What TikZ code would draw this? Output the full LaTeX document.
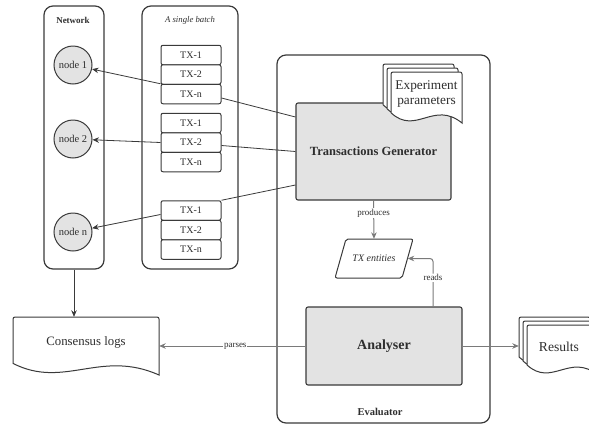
\documentclass[tikz,border=0pt]{standalone}
\usepackage{fontspec}
\setmainfont{Liberation Serif}
\usetikzlibrary{arrows.meta,calc}
\definecolor{ln}{HTML}{3A3A3A}
\definecolor{gfill}{HTML}{E3E3E3}
\definecolor{garr}{HTML}{7A7A7A}
\definecolor{txt}{HTML}{2E2E2E}
\newcommand\fs[2][]{\fontsize{#2}{#2}\selectfont}
\newcommand\docshape[4]{%
  \path[docsty] ({#1},{#2+0.8*#4}) [rounded corners=2pt] -- ({#1},{#2}) -- ({#1+#3},{#2}) [sharp corners] -- ({#1+#3},{#2+#4})
    .. controls ({#1+0.6*#3},{#2+0.55*#4}) and ({#1+0.35*#3},{#2+1.25*#4}) .. ({#1},{#2+0.8*#4}) -- cycle;}
\begin{document}
\begin{tikzpicture}[x=1pt,y=-1pt,
  container/.style={draw=ln, line width=1.2pt, rounded corners=9pt, inner sep=0pt},
  txbox/.style={draw=ln, line width=1pt, rounded corners=2pt, fill=white, minimum width=60pt, minimum height=19.5pt, inner sep=0pt, font=\fs{10}, text=txt},
  netnode/.style={circle, draw=ln, line width=1pt, fill=gfill, minimum size=38pt, inner sep=0pt, font=\fs{10.5}, text=txt},
  procbox/.style={draw=ln, line width=1.1pt, rounded corners=2pt, fill=gfill, inner sep=0pt, text=txt},
  docsty/.style={draw=ln, line width=1pt, fill=white},
  dk/.style={draw=ln, line width=0.8pt},
  darr/.style={dk, -{Stealth[length=6.5pt,width=5.5pt]}},
  garrow/.style={draw=garr, line width=1pt, -{Stealth[length=6.5pt,width=5.5pt]}},
  lbl/.style={font=\fs{9}, text=txt, fill=white, inner sep=1pt},
  ttl/.style={text=txt, inner sep=0pt},
]
\useasboundingbox (0,0) rectangle (589,426);
\clip (0,0) rectangle (589,426);

% containers
\node[container, minimum width=60pt, minimum height=263pt] (net) at (74,137.5) {};
\node[ttl, font=\fs{9}\bfseries] (netlbl) at (73,20) {Network};
\node[container, minimum width=96pt, minimum height=263pt] (batch) at (190,137.5) {};
\node[ttl, font=\fs{8.7}\itshape] (batchlbl) at (190,20) {A single batch};
\node[container, minimum width=213pt, minimum height=368pt] (eval) at (383.5,239) {};
\node[ttl, font=\fs{10.5}\bfseries] (evallbl) at (380,412) {Evaluator};

% network nodes
\node[netnode] (n1) at (73,65) {node 1};
\node[netnode] (n2) at (73,139) {node 2};
\node[netnode] (nn) at (73,232) {node n};

% batches
\node[txbox] (b1t1) at (191,55) {TX-1};
\node[txbox] (b1t2) at (191,74.5) {TX-2};
\node[txbox] (b1tn) at (191,94) {TX-n};
\node[txbox] (b2t1) at (191,123) {TX-1};
\node[txbox] (b2t2) at (191,142.5) {TX-2};
\node[txbox] (b2tn) at (191,162) {TX-n};
\node[txbox] (b3t1) at (191,210.5) {TX-1};
\node[txbox] (b3t2) at (191,230) {TX-2};
\node[txbox] (b3tn) at (191,249.5) {TX-n};

% processes
\node[procbox, minimum width=155pt, minimum height=97pt, font=\fs{12.5}\bfseries] (tg) at (373.5,151.5) {Transactions Generator};
\node[procbox, minimum width=156pt, minimum height=78pt, font=\fs{14}\bfseries] (an) at (384,346) {Analyser};

% experiment parameters (stacked documents)
\docshape{383}{64}{71}{51}
\docshape{387}{68}{71}{51}
\docshape{391}{72}{71}{51}
\node[ttl, align=center, font=\fontsize{13.3}{15}\selectfont] (ep) at (426.5,94) {Experiment\\parameters};

% TX entities
\draw[draw=ln, line width=1pt, rounded corners=2pt, fill=white] (335,278) -- (346,239) -- (413,239) -- (402,278) -- cycle;
\node[ttl, minimum width=67pt, minimum height=39pt, font=\fs{10}\itshape] (tx) at (374,258.5) {TX entities};

% consensus logs
\docshape{13}{317}{146}{58}
\node[ttl, minimum width=146pt, minimum height=50pt, font=\fs{12.8}] (logs) at (86,342) {Consensus logs};

% results (stacked documents)
\docshape{519}{317}{71}{50}
\docshape{523}{321}{71}{50}
\docshape{527}{325}{71}{50}
\node[ttl, minimum width=80pt, minimum height=52pt, font=\fs{13.6}] (res) at (559,347) {Results};

% batch -> network
\draw[darr] ([yshift=1pt]b1t2.south west) -- (n1);
\draw[darr] (b2t2.west) -- (n2);
\draw[darr] ([yshift=-4pt]b3t1.west) -- (nn);

% generator -> batches
\draw[dk] ([yshift=-4pt]b1tn.east) -- ([yshift=34.5pt]tg.west);
\draw[dk] ([yshift=-3pt]b2t2.east) -- (tg.west);
\draw[dk] (b3t1.north east) -- ([yshift=-33.5pt]tg.west);

% network -> logs
\draw[darr] (net.south) -- (net.south |- logs.north);

% produces
\draw[garrow] (tg.south) -- node[lbl, pos=0.33] {produces} (tx.north);
% reads
\draw[garrow, rounded corners=3pt] ([xshift=49pt]an.north) |- node[lbl, pos=0.3] {reads} (tx.east);
% parses
\draw[garrow] (an.west) -- node[lbl, pos=0.48] {parses} (an.west -| logs.east);
% results
\draw[garrow] (an.east) -- (an.east -| res.west);
\end{tikzpicture}
\end{document}
